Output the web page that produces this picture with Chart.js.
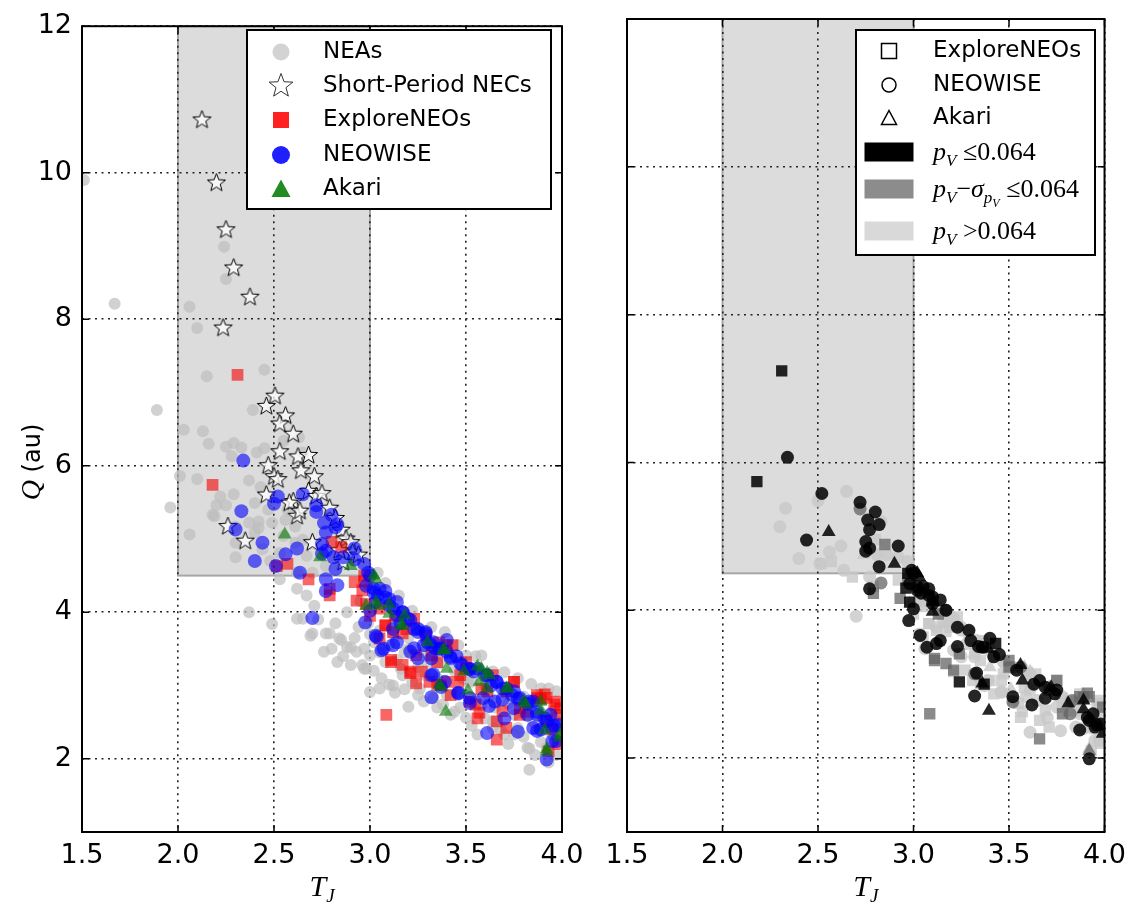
<!DOCTYPE html>
<html>
<head>
<meta charset="utf-8">
<script src="https://cdn.jsdelivr.net/npm/chart.js@4.4.1/dist/chart.umd.min.js"></script>
<style>
  body { margin: 0; background: #fff; }
  canvas { position: absolute; top: 0; }
  #left { left: 0; }
  #right { left: 595px; }
</style>
</head>
<body>
<canvas id="left" width="595" height="909"></canvas>
<canvas id="right" width="539" height="909"></canvas>
<script>
// axes
const xTicks = [1.5, 2.0, 2.5, 3.0, 3.5, 4.0]
const yTicks = [2, 4, 6, 8, 10, 12]
const xRange = [1.5, 4.0]
const yRange = [1, 12]
// comet-like region: 2 < TJ < 3, Q > 4.5
const regionT = [2.0, 3.0]
const regionQ = 4.5

// [TJ, Q]
const neas = [
  [1.51,9.90],[1.67,8.21],[2.06,8.17],[2.10,7.88],[2.24,8.99],[2.25,8.55],[2.15,7.22],[2.45,7.31],
  [1.89,6.76],[2.03,6.49],[2.13,6.47],[2.16,6.30],[2.25,6.26],[2.29,6.31],[2.33,6.25],[2.28,6.13],
  [2.39,6.76],[2.41,6.18],[2.45,6.24],[2.55,6.34],[2.63,6.39],[2.65,6.18],[2.01,5.86],[2.10,5.82],
  [1.96,5.43],[2.06,5.06],[2.18,5.33],[2.22,5.58],[2.29,5.61],[2.40,5.49],[2.30,4.75],[2.37,4.00],
  [2.49,3.84],[2.47,5.40],[2.42,5.24],[2.40,5.09],[2.49,5.22],[2.55,5.04],[2.61,4.95],[2.53,4.81],
  [2.67,4.77],[2.70,4.54],[2.77,4.63],[2.20,5.46],[2.25,5.46],[2.19,5.31],[2.30,5.17],[2.37,5.22],
  [2.42,5.15],[2.30,4.95],[2.44,4.86],[2.48,4.70],[2.37,5.80],[2.43,5.71],[2.56,5.26],[2.57,5.40],
  [2.61,5.17],[2.65,4.99],[2.62,4.54],[2.53,4.45],
  [2.62,4.32],[2.67,4.23],[2.71,4.09],[2.65,3.91],[2.69,3.68],[2.79,3.71],[2.85,3.62],[2.90,3.52],
  [2.90,3.28],[2.97,3.23],[3.00,2.91],[3.05,2.96],[3.12,3.00],[3.00,3.41],[2.94,3.80],[3.02,3.59],
  [3.08,3.32],[3.17,3.14],[3.20,2.71],[3.25,2.87],[3.29,3.14],[3.32,3.41],[3.40,2.87],[3.44,2.64],
  [3.51,3.05],[3.58,2.73],[3.64,2.51],[3.70,2.33],[3.77,2.42],[3.83,2.14],[3.83,1.85],[3.89,2.23],
  [3.95,2.33],[3.97,2.05],[2.70,3.71],[2.62,3.91],[2.77,3.71],[2.84,3.64],[2.88,3.53],[2.93,3.46],
  [2.96,3.28],[2.83,3.32],[2.76,3.46],[2.97,3.50],[2.98,3.23],[3.10,3.01],[3.16,3.23],[3.26,2.96],
  [3.33,2.83],[3.42,2.60],[3.50,2.56],[3.56,2.33],[3.64,2.42],[3.75,2.33],[3.82,2.15],[3.92,2.15],
  [3.38,2.74],
  [3.04,4.54],[3.15,4.23],[3.39,3.73],[3.58,3.41],[3.77,3.10],[3.93,2.96],[3.16,4.00],[3.26,3.77],
  [3.40,3.55],[3.50,3.41],[3.64,3.19],[3.89,2.96],[3.97,2.92],[3.08,4.40],[3.22,4.02],[3.32,3.80],
  [3.46,3.55],[3.55,3.40],[3.70,3.18],[3.84,3.02],
  [3.05,3.75],[3.10,3.55],[3.18,3.45],[3.25,3.25],[3.35,3.10],[3.45,2.90],[3.55,2.80],[3.65,2.70],
  [3.75,2.60],[3.85,2.50],[3.95,2.65],[3.90,2.80],[3.80,2.85],[3.70,2.90],[3.60,3.00],[3.48,3.10],
  [3.30,3.30],[3.20,3.50],[3.12,3.70],[3.00,3.70],
  [3.02,3.20],[3.06,3.10],[3.13,2.90],[3.18,2.95],[3.22,3.05],[3.28,2.78],[3.35,2.70],[3.47,2.70],
  [3.53,2.45],[3.60,2.55],[3.68,2.40],[3.72,2.20],[3.80,2.30],[3.86,2.05],[3.93,1.95],[3.90,2.45],
  [3.98,2.50],[2.80,3.50],[2.86,3.40],[2.92,3.65],[2.99,3.85],[3.05,3.45],[3.14,3.35],[2.73,3.90],
  [2.82,3.85],[2.88,4.00],[2.95,4.15],[3.00,4.35],[3.06,4.10],[3.12,3.85],[3.20,3.65],[3.28,3.45],
  [3.36,3.30],[3.44,3.20],[3.53,3.05],[3.62,2.85],[3.72,2.75],[3.82,2.60],[3.92,2.40]
]

const necs = [
  [2.125,10.72],[2.20,9.86],[2.25,9.22],[2.29,8.70],[2.375,8.30],[2.235,7.88],[2.505,6.95],[2.46,6.81],
  [2.56,6.68],[2.53,6.57],[2.60,6.43],[2.53,6.19],[2.625,6.12],[2.68,6.14],[2.47,6.00],[2.64,5.93],
  [2.50,5.85],[2.71,5.85],[2.52,5.81],[2.46,5.60],[2.60,5.51],[2.68,5.65],[2.72,5.58],[2.62,5.31],
  [2.75,5.62],[2.79,5.42],[2.82,5.28],[2.26,5.17],[2.35,4.97],[2.85,5.12],[2.70,4.95],[2.875,5.00],
  [2.90,4.95],[2.91,4.81],[2.86,4.68],[2.94,4.78],[2.84,4.84],[2.58,5.49],[2.635,5.38]
]

// [TJ, Q, albedo class]  0: pV <= 0.064, 1: pV - sigma <= 0.064, 2: pV > 0.064
const exploreNEOs = [
  [2.31,7.24,0],[2.18,5.74,0],[2.515,4.63,2],[2.57,4.66,2],[2.68,4.45,2],[2.79,4.23,1],[2.79,4.32,2],
  [2.92,4.41,2],[2.93,4.16,1],[2.85,4.89,1],[2.80,4.96,2],[3.085,2.60,1],[3.11,3.32,1],[3.21,3.19,1],
  [3.27,3.19,2],[3.31,3.05,2],[3.08,3.82,2],[3.17,3.71,2],[3.00,3.95,2],[2.98,4.11,0],[2.96,4.30,0],
  [2.97,4.42,1],[3.23,3.91,2],[3.29,3.68,2],[3.40,3.05,2],[3.37,3.00,0],[3.24,3.03,0],[3.52,2.78,2],
  [3.56,2.55,2],[3.66,2.26,1],[3.71,2.42,2],[3.81,2.64,2],[3.89,2.82,1],[3.97,2.78,2],[3.99,2.69,1],
  [3.93,2.10,2],[3.40,3.55,2],[3.50,3.32,1],[3.64,3.14,2],[3.75,3.05,1],[3.87,2.87,2],[3.46,3.05,2],
  [3.35,3.32,2],[3.19,3.77,2],[3.91,2.88,1],[3.95,2.40,2],[3.05,4.05,2],[3.13,3.95,1],[3.58,2.95,2],
  [3.78,2.60,1],[3.98,2.20,2],[3.92,2.52,2],
  [2.97,4.50,0],[3.08,3.82,2],[3.12,3.73,2],[3.11,3.35,1],[3.21,3.17,2],[3.24,3.41,1],[3.32,3.41,2],
  [3.36,3.59,2],[3.43,3.55,0],[3.47,3.14,2],[3.50,3.23,1],[3.55,2.74,2],[3.61,2.92,2],[3.66,2.51,2],
  [3.71,2.92,1],[3.75,3.05,2],[3.78,2.69,2],[3.87,2.83,1],[3.92,2.83,1],[3.96,2.74,2],[3.97,2.60,2],
  [3.69,2.65,2],[3.57,2.63,2],[3.42,2.87,2],[3.35,3.01,2],[3.17,3.28,1],[3.05,3.64,2]
]

const neowise = [
  [2.34,6.07,0],[2.52,5.58,0],[2.50,5.48,2],[2.65,5.61,2],[2.72,5.46,0],[2.33,5.38,2],[2.30,5.13,2],
  [2.44,4.95,0],[2.40,4.70,2],[2.56,4.79,2],[2.62,4.87,2],[2.51,4.63,2],[2.635,4.54,2],[2.70,3.92,2],
  [2.72,5.37,1],[2.80,5.33,0],[2.76,5.22,0],[2.77,5.09,0],[2.83,5.20,2],[2.82,5.16,0],[2.75,4.93,0],
  [2.77,4.84,0],[2.75,4.80,0],[2.81,4.75,2],[2.86,4.75,2],[2.92,4.87,0],[2.92,4.72,2],[2.97,4.66,2],
  [2.82,4.59,0],[2.77,4.45,2],[2.83,4.37,1],[2.77,4.29,0],[2.99,4.54,0],[3.00,4.50,0],
  [3.02,4.32,0],[3.04,4.23,0],[3.08,4.29,0],[3.10,4.18,0],[3.12,4.05,2],[3.14,4.14,0],[3.17,4.00,0],
  [3.20,3.91,2],[3.25,3.77,2],[3.29,3.73,0],[3.33,3.59,2],[3.37,3.50,1],[3.42,3.39,2],[3.48,3.28,2],
  [3.54,3.19,0],[3.60,3.14,2],[3.66,3.05,0],[3.71,2.96,2],[3.77,2.82,2],[3.83,2.78,1],[3.87,2.64,2],
  [3.91,2.55,0],[3.95,2.42,0],[3.97,2.24,2],[3.92,1.99,0],
  [2.975,3.86,0],[3.035,3.66,0],[3.06,3.48,2],[3.12,3.55,0],[3.23,3.51,0],[3.32,3.37,2],[3.32,2.84,0],
  [3.37,2.98,2],[3.46,2.89,2],[3.52,2.76,1],[3.61,2.35,2],[3.62,2.72,0],[3.69,2.81,0],[3.70,2.55,2],
  [3.77,2.37,2],[3.87,2.38,0],[3.85,2.42,2],[3.33,3.15,0],[3.34,3.51,0],[3.40,3.62,0],[3.45,3.40,0],
  [3.52,3.22,2],[3.63,3.00,0],[3.75,2.92,0],[3.82,2.75,2],[3.94,2.60,0],[3.98,2.46,0],[3.16,3.85,2],
  [3.28,3.55,2],
  [2.98,4.36,0],[3.02,4.27,0],[3.05,4.32,0],[3.08,4.20,0],[3.03,4.14,2],[3.00,4.02,0],[3.10,4.09,0],
  [3.14,3.95,2],[3.17,4.00,1],[3.21,3.89,2],[3.23,3.77,0],[3.25,3.73,2],[3.29,3.71,2],[3.30,3.59,0],
  [3.32,3.55,2],[3.36,3.50,0],[3.40,3.46,2],[3.42,3.37,0],[3.47,3.30,2],[3.52,3.23,2],[3.56,3.23,1],
  [3.61,3.14,2],[3.66,3.05,2],[3.69,2.96,0],[3.74,2.87,0],[3.78,2.83,2],[3.85,2.78,2],[3.87,2.60,2],
  [3.92,2.51,0],[3.96,2.45,0],[3.95,2.24,2],[3.89,2.40,2],[3.82,2.60,1],[3.75,2.69,2],[3.65,2.78,2],
  [3.59,2.83,2],[3.52,2.83,0],[3.46,2.90,2],[3.39,3.05,2],[3.32,3.14,1],[3.25,3.37,2],[3.21,3.46,2],
  [3.14,3.59,0],[3.07,3.50,0],[3.03,3.68,2],[3.12,3.77,2]
]

const akari = [
  [2.556,5.06,0],[2.74,4.75,2],[2.90,4.63,0],[3.03,4.45,0],[2.98,4.09,2],[3.04,4.09,2],[3.10,4.11,0],
  [3.18,3.96,2],[3.17,3.82,2],[3.30,3.59,2],[3.39,3.48,0],[3.40,3.23,2],[3.395,2.64,0],[3.37,2.98,2],
  [3.51,2.93,2],[3.57,3.05,0],[3.58,3.23,2],[3.62,3.14,2],[3.72,2.96,0],[3.81,2.74,0],[3.89,2.66,0],
  [3.91,2.39,2],[3.92,2.10,1],[3.99,2.33,0],
  [3.02,4.50,0],[3.03,4.14,2],[3.10,3.98,0],[3.16,3.82,2],[3.38,3.48,2],[3.36,3.01,0],[3.49,3.19,2],
  [3.56,3.26,0],[3.61,3.17,2],[3.61,2.96,2],[3.71,2.96,2],[3.80,2.78,2],[3.89,2.78,0],[3.92,2.13,2],
  [3.99,2.29,2]
]

const albedoColors = ['rgba(0,0,0,0.85)', 'rgba(100,100,100,0.75)', 'rgba(200,200,200,0.8)']
const albedoSwatch = ['#000000', '#8c8c8c', '#d9d9d9']

const toPts = arr => arr.map(p => ({ x: p[0], y: p[1] }))
const ofClass = (arr, c) => toPts(arr.filter(p => p[2] === c))

const starPath = (g, cx, cy, r, ri) => {
  g.beginPath()
  for (let i = 0; i < 10; i++) {
    const a = -Math.PI / 2 + i * Math.PI / 5
    const rr = i % 2 ? ri : r
    g.lineTo(cx + rr * Math.cos(a), cy + rr * Math.sin(a))
  }
  g.closePath()
}

const makeStar = (r) => {
  const c = document.createElement('canvas')
  const s = Math.ceil(2 * r + 4)
  c.width = c.height = s
  const g = c.getContext('2d')
  starPath(g, s / 2, s / 2, r, r * 0.42)
  g.fillStyle = 'rgba(255,255,255,0.75)'
  g.fill()
  g.lineWidth = 1
  g.strokeStyle = '#000'
  g.stroke()
  return c
}

const drawMarker = (ctx, m, cx, cy) => {
  ctx.save()
  ctx.beginPath()
  if (m.shape === 'circle') ctx.arc(cx, cy, m.r, 0, Math.PI * 2)
  else if (m.shape === 'square') ctx.rect(cx - m.r, cy - m.r, 2 * m.r, 2 * m.r)
  else if (m.shape === 'triangle') {
    ctx.moveTo(cx, cy - m.r); ctx.lineTo(cx + m.r, cy + m.r * 0.85); ctx.lineTo(cx - m.r, cy + m.r * 0.85); ctx.closePath()
  }
  else if (m.shape === 'bar') ctx.rect(cx - m.w / 2, cy - m.h / 2, m.w, m.h)
  else if (m.shape === 'star') starPath(ctx, cx, cy, m.r, m.r * 0.42)
  if (m.fill) { ctx.fillStyle = m.fill; ctx.fill() }
  if (m.stroke) { ctx.lineWidth = m.lw || 1; ctx.strokeStyle = m.stroke; ctx.stroke() }
  ctx.restore()
}

// text made of runs (for sub/superscripts)
const drawRuns = (ctx, x, y, runs) => {
  ctx.save()
  ctx.textBaseline = 'alphabetic'
  ctx.textAlign = 'left'
  ctx.fillStyle = '#000'
  for (const r of runs) {
    ctx.font = r.font
    ctx.fillText(r.t, x, y + (r.dy || 0))
    x += ctx.measureText(r.t).width
  }
  ctx.restore()
}
const runsWidth = (ctx, runs) => {
  let w = 0
  ctx.save()
  for (const r of runs) { ctx.font = r.font; w += ctx.measureText(r.t).width }
  ctx.restore()
  return w
}

const serif = '"Liberation Serif", "DejaVu Serif", serif'
const sans = '"DejaVu Sans", sans-serif'

const panelDecor = {
  id: 'panelDecor',
  beforeDraw(chart) {
    const { ctx, chartArea: a, scales: { x, y } } = chart
    const x0 = x.getPixelForValue(regionT[0]), x1 = x.getPixelForValue(regionT[1])
    const yb = y.getPixelForValue(regionQ)
    ctx.save()
    ctx.fillStyle = '#dcdcdc'
    ctx.fillRect(x0, a.top, x1 - x0, yb - a.top)
    ctx.strokeStyle = '#a6a6a6'
    ctx.lineWidth = 2
    ctx.strokeRect(x0, a.top, x1 - x0, yb - a.top)
    ctx.restore()
  },
  afterDraw(chart, args, opts) {
    const { ctx, chartArea: a, scales: { x, y } } = chart
    ctx.save()
    // inward ticks
    ctx.strokeStyle = '#000'
    ctx.lineWidth = 1.5
    ctx.beginPath()
    for (const v of xTicks) {
      const px = x.getPixelForValue(v)
      ctx.moveTo(px, a.bottom); ctx.lineTo(px, a.bottom - 7)
      ctx.moveTo(px, a.top); ctx.lineTo(px, a.top + 7)
    }
    for (const v of yTicks) {
      const py = y.getPixelForValue(v)
      ctx.moveTo(a.left, py); ctx.lineTo(a.left + 7, py)
      ctx.moveTo(a.right, py); ctx.lineTo(a.right - 7, py)
    }
    ctx.stroke()
    // frame
    ctx.lineWidth = 2
    ctx.strokeRect(a.left, a.top, a.right - a.left, a.bottom - a.top)

    // legend
    const L = opts.legend
    ctx.fillStyle = '#fff'
    ctx.fillRect(L.x0, L.y0, L.x1 - L.x0, L.y1 - L.y0)
    ctx.lineWidth = 2
    ctx.strokeStyle = '#000'
    ctx.strokeRect(L.x0, L.y0, L.x1 - L.x0, L.y1 - L.y0)
    for (const row of L.rows) {
      drawMarker(ctx, row.marker, L.mx, row.y)
      if (row.text) {
        ctx.font = '23px ' + sans
        ctx.fillStyle = '#000'
        ctx.textBaseline = 'middle'
        ctx.fillText(row.text, L.tx, row.y)
      } else {
        drawRuns(ctx, L.tx, row.y + 8, row.runs)
      }
    }

    // axis titles
    const xt = [
      { t: 'T', font: 'italic 30px ' + serif },
      { t: 'J', font: 'italic 19px ' + serif, dy: 6 }
    ]
    const cx = (a.left + a.right) / 2
    drawRuns(ctx, cx - runsWidth(ctx, xt) / 2, 896, xt)
    if (opts.yTitle) {
      const yt = [
        { t: 'Q', font: 'italic 28px ' + serif },
        { t: ' (au)', font: '24px ' + sans }
      ]
      ctx.translate(40, 462)
      ctx.rotate(-Math.PI / 2)
      drawRuns(ctx, -runsWidth(ctx, yt) / 2, 0, yt)
    }
    ctx.restore()
  }
}

const makeScales = (yWidth, showY) => ({
  x: {
    type: 'linear', min: xRange[0], max: xRange[1],
    afterBuildTicks: s => { s.ticks = xTicks.map(v => ({ value: v })) },
    afterFit: s => { s.height = 77 },
    ticks: { font: { family: 'DejaVu Sans', size: 27 }, color: '#000', padding: 8, maxRotation: 0, callback: v => v.toFixed(1) },
    grid: { color: '#222', lineWidth: 1.6, drawTicks: false },
    border: { display: false, dash: [2, 4.5] }
  },
  y: {
    type: 'linear', min: yRange[0], max: yRange[1],
    afterBuildTicks: s => { s.ticks = yTicks.map(v => ({ value: v })) },
    afterFit: s => { s.width = yWidth },
    ticks: { display: showY, font: { family: 'DejaVu Sans', size: 27 }, color: '#000', padding: 10, callback: v => String(v) },
    grid: { color: '#222', lineWidth: 1.6, drawTicks: false },
    border: { display: false, dash: [2, 4.5] }
  }
})

const baseOptions = (yWidth, showY, rightPad, decor) => ({
  responsive: false,
  animation: false,
  events: [],
  layout: { padding: { top: 19, right: rightPad, left: 0, bottom: 0 } },
  scales: makeScales(yWidth, showY),
  plugins: { legend: { display: false }, tooltip: { enabled: false }, panelDecor: decor }
})

const pointSet = (label, data, style, color, radius, order) => ({
  label, data, pointStyle: style, backgroundColor: color, borderWidth: 0,
  pointRadius: radius, showLine: false, clip: 0, order
})

// left panel
new Chart(document.getElementById('left'), {
  type: 'scatter',
  data: {
    datasets: [
      pointSet('NEAs', toPts(neas), 'circle', 'rgba(190,190,190,0.7)', 6, 5),
      pointSet('Short-Period NECs', toPts(necs), makeStar(9.5), '#fff', 9.5, 4),
      pointSet('ExploreNEOs', toPts(exploreNEOs), 'rect', 'rgba(245,0,0,0.6)', 8.3, 3),
      pointSet('NEOWISE', toPts(neowise), 'circle', 'rgba(0,0,255,0.6)', 7, 2),
      pointSet('Akari', toPts(akari), 'triangle', 'rgba(0,120,0,0.6)', 8, 1)
    ]
  },
  options: baseOptions(82, true, 33, {
    yTitle: true,
    legend: {
      x0: 247, y0: 30, x1: 551, y1: 209, mx: 281, tx: 323,
      rows: [
        { y: 52, text: 'NEAs', marker: { shape: 'circle', r: 8.5, fill: '#d3d3d3' } },
        { y: 86, text: 'Short-Period NECs', marker: { shape: 'star', r: 12.5, fill: '#fff', stroke: '#333', lw: 1 } },
        { y: 120, text: 'ExploreNEOs', marker: { shape: 'square', r: 8, fill: '#ff2020' } },
        { y: 155, text: 'NEOWISE', marker: { shape: 'circle', r: 9, fill: '#2020ff' } },
        { y: 189, text: 'Akari', marker: { shape: 'triangle', r: 9.5, fill: '#228b22' } }
      ]
    }
  }),
  plugins: [panelDecor]
})

// right panel: same objects, shaded by albedo
const rightSets = []
const shapes = [['ExploreNEOs', exploreNEOs, 'rect', 8], ['NEOWISE', neowise, 'circle', 6.5], ['Akari', akari, 'triangle', 8]]
for (let c = 2; c >= 0; c--) {
  shapes.forEach(([name, arr, style, r], i) => {
    rightSets.push(pointSet(name + ' ' + c, ofClass(arr, c), style, albedoColors[c], r, c * 3 + (2 - i)))
  })
}

const pv = (extra) => [{ t: 'p', font: 'italic 26px ' + serif }, { t: 'V', font: 'italic 17px ' + serif, dy: 6 }].concat(extra)

new Chart(document.getElementById('right'), {
  type: 'scatter',
  data: { datasets: rightSets },
  options: baseOptions(32, false, 27, {
    yTitle: false,
    legend: {
      x0: 261, y0: 30, x1: 500, y1: 255, mx: 294, tx: 338,
      rows: [
        { y: 51, text: 'ExploreNEOs', marker: { shape: 'square', r: 7.5, fill: '#fff', stroke: '#000', lw: 1.5 } },
        { y: 85, text: 'NEOWISE', marker: { shape: 'circle', r: 7, fill: '#fff', stroke: '#000', lw: 1.5 } },
        { y: 118, text: 'Akari', marker: { shape: 'triangle', r: 7.5, fill: '#fff', stroke: '#000', lw: 1.5 } },
        { y: 152, runs: pv([{ t: ' \u22640.064', font: '26px ' + serif }]), marker: { shape: 'bar', w: 49, h: 19, fill: albedoSwatch[0] } },
        { y: 189, runs: pv([
            { t: '\u2212', font: '26px ' + serif },
            { t: '\u03c3', font: 'italic 26px ' + serif },
            { t: 'p', font: 'italic 17px ' + serif, dy: 6 },
            { t: 'V', font: 'italic 12px ' + serif, dy: 10 },
            { t: ' \u22640.064', font: '26px ' + serif }
          ]), marker: { shape: 'bar', w: 49, h: 19, fill: albedoSwatch[1] } },
        { y: 231, runs: pv([{ t: ' >0.064', font: '26px ' + serif }]), marker: { shape: 'bar', w: 49, h: 19, fill: albedoSwatch[2] } }
      ]
    }
  }),
  plugins: [panelDecor]
})
</script>
</body>
</html>
